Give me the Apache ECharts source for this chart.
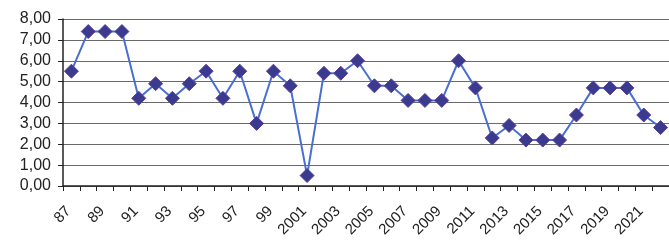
<!DOCTYPE html>
<html>
<head>
<meta charset="utf-8">
<script src="https://cdn.jsdelivr.net/npm/echarts@6/dist/echarts.min.js"></script>
<style>
  html, body { margin: 0; padding: 0; background: #fff; }
  #chart { width: 669px; height: 241px; }
</style>
</head>
<body>
<div id="chart"></div>
<script>
// years 1987 - 2022, short labels as on the original axis
const years = ['87', '88', '89', '90', '91', '92', '93', '94', '95', '96', '97', '98', '99',
  '2000', '2001', '2002', '2003', '2004', '2005', '2006', '2007', '2008', '2009', '2010',
  '2011', '2012', '2013', '2014', '2015', '2016', '2017', '2018', '2019', '2020', '2021', '2022']
const values = [5.5, 7.4, 7.4, 7.4, 4.2, 4.9, 4.2, 4.9, 5.5, 4.2, 5.5, 3.0, 5.5,
  4.8, 0.5, 5.4, 5.4, 6.0, 4.8, 4.8, 4.1, 4.1, 4.1, 6.0,
  4.7, 2.3, 2.9, 2.2, 2.2, 2.2, 3.4, 4.7, 4.7, 4.7, 3.4, 2.8]

const myChart = echarts.init(document.getElementById('chart'))

const option = {
  animation: false,
  grid: {
    left: 63,
    top: 19,
    bottom: 55,
    width: 610
  },
  xAxis: {
    type: 'category',
    data: years,
    boundaryGap: true,
    axisLine: { lineStyle: { color: '#222', width: 1.5 } },
    axisTick: { show: true, interval: 0, length: 5, lineStyle: { color: '#222' } },
    axisLabel: {
      interval: 1,
      rotate: 45,
      fontFamily: 'Liberation Sans, Arial',
      fontSize: 15,
      color: '#222',
      margin: 20,
      padding: [0, 4, 0, 0]
    }
  },
  yAxis: {
    type: 'value',
    min: 0,
    max: 8,
    interval: 1,
    axisLine: { show: true, lineStyle: { color: '#222', width: 1.5 } },
    axisTick: { show: true, length: 5, lineStyle: { color: '#222' } },
    axisLabel: {
      formatter: v => v.toFixed(2).replace('.', ','),
      fontFamily: 'Liberation Sans, Arial',
      fontSize: 16,
      color: '#222',
      margin: 12
    },
    splitLine: { show: true, lineStyle: { color: '#6a6a6a', width: 1.2 } }
  },
  series: [
    {
      type: 'line',
      data: values,
      symbol: 'diamond',
      symbolSize: 14,
      showAllSymbol: true,
      lineStyle: { color: '#4a6fd2', width: 2 },
      itemStyle: { color: '#3a3a8e', borderColor: '#5a3f9a', borderWidth: 1 }
    }
  ]
}
myChart.setOption(option)
</script>
</body>
</html>
